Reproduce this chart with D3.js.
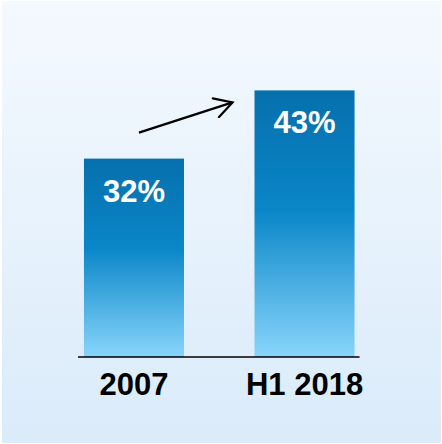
<!DOCTYPE html>
<html>
<head>
<meta charset="utf-8">
<script src="https://cdn.jsdelivr.net/npm/d3@7"></script>
<style>
  html, body { margin: 0; padding: 0; background: #ffffff; }
  svg { display: block; }
</style>
</head>
<body>
<svg id="chart" width="442" height="444"></svg>
<script>
// Share of total, by period
const categories = ["2007", "H1 2018"];
const values = [32, 43];
const valueLabels = ["32%", "43%"];

const W = 442, H = 444;
const svg = d3.select("#chart");
const defs = svg.append("defs");

// Panel background: pale top fading to light blue at the bottom
const bg = defs.append("linearGradient")
  .attr("id", "bgGrad").attr("x1", 0).attr("y1", 0).attr("x2", 0).attr("y2", 1);
bg.append("stop").attr("offset", "0%").attr("stop-color", "#f4f9fe");
bg.append("stop").attr("offset", "100%").attr("stop-color", "#daebfa");

// Bar fill: deep blue at the top, lighter sky blue at the base
const bar = defs.append("linearGradient")
  .attr("id", "barGrad").attr("x1", 0).attr("y1", 0).attr("x2", 0).attr("y2", 1);
bar.append("stop").attr("offset", "0%").attr("stop-color", "#0670ad");
bar.append("stop").attr("offset", "45%").attr("stop-color", "#0a86c8");
bar.append("stop").attr("offset", "100%").attr("stop-color", "#88d5fb");

defs.append("marker")
  .attr("id", "arrowHead")
  .attr("viewBox", "0 0 20 20")
  .attr("refX", 18).attr("refY", 10)
  .attr("markerWidth", 22).attr("markerHeight", 22)
  .attr("markerUnits", "userSpaceOnUse")
  .attr("orient", "auto")
  .append("path")
  .attr("d", "M2,1 L18,10 L2,19")
  .attr("fill", "none").attr("stroke", "#000").attr("stroke-width", 2)
  .attr("stroke-linecap", "round").attr("stroke-linejoin", "miter");

svg.append("rect")
  .attr("x", 2).attr("y", 1).attr("width", W - 3).attr("height", H - 2)
  .attr("fill", "url(#bgGrad)");

const x = d3.scaleBand()
  .domain(categories)
  .range([49, 389.5])
  .paddingInner(0.4135)
  .paddingOuter(0.205);

const y = d3.scaleLinear()
  .domain([0, 45])
  .range([357, 357 - 45 * 6.2]);

const data = categories.map((c, i) => ({ cat: c, value: values[i], label: valueLabels[i] }));

svg.selectAll("rect.bar")
  .data(data)
  .enter().append("rect")
  .attr("class", "bar")
  .attr("x", d => x(d.cat))
  .attr("y", d => y(d.value))
  .attr("width", x.bandwidth())
  .attr("height", d => y(0) - y(d.value))
  .attr("fill", "url(#barGrad)");

// Value labels inside the bars
svg.selectAll("text.val")
  .data(data)
  .enter().append("text")
  .attr("class", "val")
  .attr("x", d => x(d.cat) + x.bandwidth() / 2)
  .attr("y", d => y(d.value) + 43)
  .attr("text-anchor", "middle")
  .attr("font-family", "'Liberation Sans', Arial, sans-serif")
  .attr("font-weight", "bold")
  .attr("font-size", 31)
  .attr("fill", "#ffffff")
  .text(d => d.label);

// Baseline
svg.append("line")
  .attr("x1", x(categories[0]) - 6)
  .attr("x2", x(categories[1]) + x.bandwidth() + 5)
  .attr("y1", y(0)).attr("y2", y(0))
  .attr("stroke", "#000").attr("stroke-width", 1.5);

// Category axis
const xAxis = svg.append("g")
  .attr("transform", `translate(0,${y(0)})`)
  .call(d3.axisBottom(x).tickSize(0).tickPadding(38));
xAxis.select(".domain").remove();
xAxis.selectAll("text")
  .attr("font-family", "'Liberation Sans', Arial, sans-serif")
  .attr("font-weight", "bold")
  .attr("font-size", 31)
  .attr("fill", "#000")
  .attr("dy", 0);

// Growth arrow between the two bars
const ax1 = x(categories[0]) + x.bandwidth() / 2 + 5;
const ay1 = y(values[0]) - 26;
const ax2 = x(categories[1]) - 22;
const ay2 = y(values[1]) + 12;
svg.append("line")
  .attr("x1", ax1).attr("y1", ay1)
  .attr("x2", ax2).attr("y2", ay2)
  .attr("stroke", "#000").attr("stroke-width", 2.2)
  .attr("marker-end", "url(#arrowHead)");
</script>
</body>
</html>
